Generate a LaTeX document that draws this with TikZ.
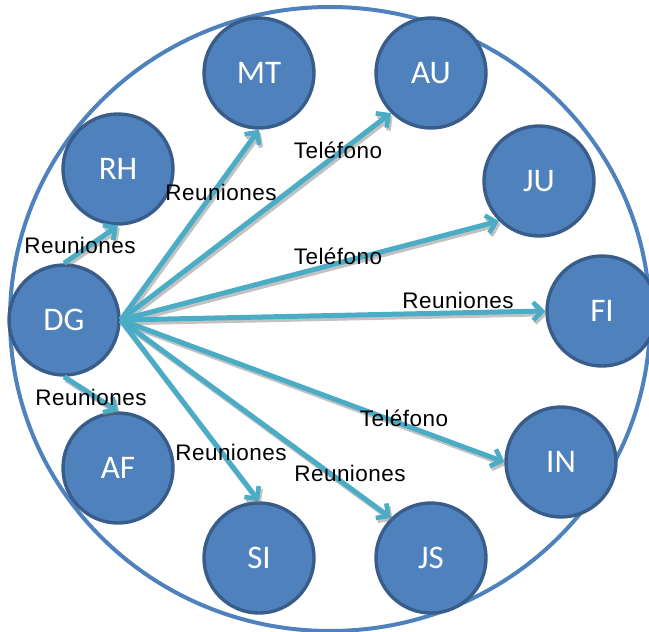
\documentclass[tikz,border=0pt]{standalone}
\usepackage{fontspec}
\setmainfont{Liberation Sans}
\newfontfamily\nodefont{Carlito}
\usetikzlibrary{arrows.meta}

\definecolor{ringblue}{HTML}{4F81BD}
\definecolor{nodefill}{HTML}{4F81BD}
\definecolor{nodeedge}{HTML}{385D8A}
\definecolor{linkteal}{HTML}{4BACC6}

\tikzset{
  unit/.style={circle, minimum size=110pt, inner sep=0pt, fill=nodefill,
    draw=nodeedge, line width=3.4pt, text=white,
    font=\nodefont\fontsize{33}{36}\selectfont},
  link/.style={draw=linkteal, line width=5pt,
    -{Straight Barb[length=9pt,width=18pt,line width=4.6pt]},
    preaction={draw=black!60, opacity=0.4, line width=5pt,
      transform canvas={shift={(1.8pt,-2.8pt)}},
      -{Straight Barb[length=9pt,width=18pt,line width=4.6pt]}}},
  tag/.style={text=black, inner sep=0pt,
    font=\fontsize{22.5}{26}\selectfont\addfontfeature{LetterSpace=2}}
}

\begin{document}
\begin{tikzpicture}[x=1pt, y=-1pt]
  \useasboundingbox (0,0) rectangle (649,632);

  % outer ring
  \draw[ringblue, line width=4pt] (330,319) ellipse [x radius=320, y radius=312];

  % departments
  \node[unit] (DG) at (64,320)  {DG};
  \node[unit] (RH) at (118,169) {RH};
  \node[unit] (AF) at (118,468) {AF};
  \node[unit] (MT) at (259,73)  {MT};
  \node[unit] (AU) at (431,73)  {AU};
  \node[unit] (JU) at (539,181) {JU};
  \node[unit] (FI) at (602,311) {FI};
  \node[unit] (IN) at (561,462) {IN};
  \node[unit] (JS) at (431,558) {JS};
  \node[unit] (SI) at (259,558) {SI};

  % communication links
  \draw[link] (DG.north) -- (RH.south);
  \draw[link] (DG.south) -- (AF.north);
  \draw[link] (DG.east) -- (MT.south);
  \draw[link] (DG.east) -- (AU.south west);
  \draw[link] (DG.east) -- (JU.south west);
  \draw[link] (DG.east) -- (FI.west);
  \draw[link] (DG.east) -- (IN.west);
  \draw[link] (DG.east) -- (JS.north west);
  \draw[link] (DG.east) -- (SI.north);

  % link labels
  \node[tag] (l1) at (80,245)  {Reuniones};
  \node[tag] (l2) at (91,397)  {Reuniones};
  \node[tag] (l3) at (221,192) {Reuniones};
  \node[tag] (l4) at (338,150) {Teléfono};
  \node[tag] (l5) at (338,256) {Teléfono};
  \node[tag] (l6) at (458,300) {Reuniones};
  \node[tag] (l7) at (404,418) {Teléfono};
  \node[tag] (l8) at (231,452) {Reuniones};
  \node[tag] (l9) at (350,473) {Reuniones};
\end{tikzpicture}
\end{document}
